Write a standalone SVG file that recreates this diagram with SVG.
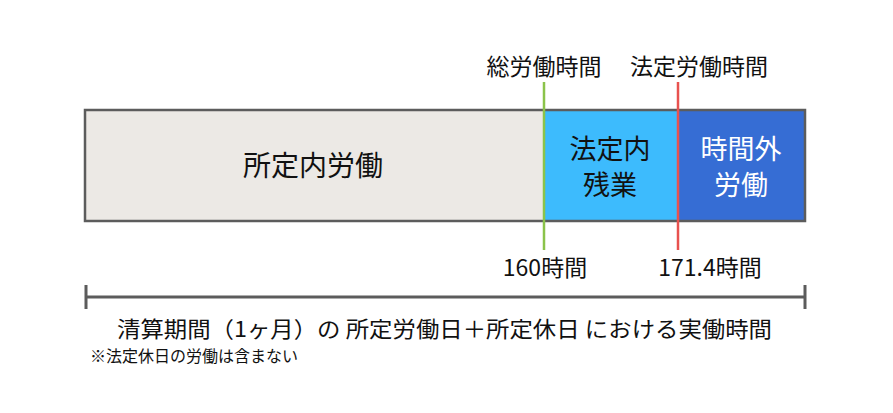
<svg xmlns="http://www.w3.org/2000/svg" width="893" height="413" viewBox="0 0 893 413">
<style>
text{font-family:"Noto Sans CJK JP","Noto Sans",sans-serif;fill:#111}
.big{font-size:28px}
.two{font-size:27px}
.lbl{font-size:23px}
.w{fill:#fff}
.seg{stroke:none}
</style>
<rect width="893" height="413" fill="#fff"/>
<g id="shotei-nai">
<rect class="seg" x="85" y="110" width="459" height="111" fill="#ECE9E5"/>
<text class="big" x="313" y="176" text-anchor="middle">所定内労働</text>
</g>
<g id="houtei-nai-zangyo">
<rect class="seg" x="544" y="110" width="134" height="111" fill="#3DBBFD"/>
<text class="two" x="610" y="159" text-anchor="middle">法定内</text>
<text class="two" x="610" y="195" text-anchor="middle">残業</text>
</g>
<g id="jikangai">
<rect class="seg" x="678" y="110" width="127" height="111" fill="#366DD4"/>
<text class="two w" x="741" y="159" text-anchor="middle">時間外</text>
<text class="two w" x="741" y="195" text-anchor="middle">労働</text>
</g>
<rect x="85" y="110" width="720" height="111" fill="none" stroke="#5C5C5C" stroke-width="2.5"/>
<g id="connectors" fill="none" stroke-width="2.5">
<line x1="544" y1="82" x2="544" y2="250" stroke="#8BC34A"/>
<line x1="678" y1="82" x2="678" y2="250" stroke="#E8524F"/>
<path d="M86 297H805M86 285V309M805 285V309" stroke="#5C5C5C" stroke-width="3"/>
</g>
<g id="labels">
<text class="lbl" x="544" y="75" text-anchor="middle">総労働時間</text>
<text class="lbl" x="699" y="75" text-anchor="middle">法定労働時間</text>
<text class="lbl" x="545" y="276" text-anchor="middle">160時間</text>
<text class="lbl" x="710" y="276" text-anchor="middle">171.4時間</text>
</g>
<g id="caption">
<text x="117" y="337" font-size="22" textLength="655" lengthAdjust="spacingAndGlyphs">清算期間（1ヶ月）の 所定労働日＋所定休日 における実働時間</text>
<text x="90" y="362" font-size="16">※法定休日の労働は含まない</text>
</g>
</svg>
